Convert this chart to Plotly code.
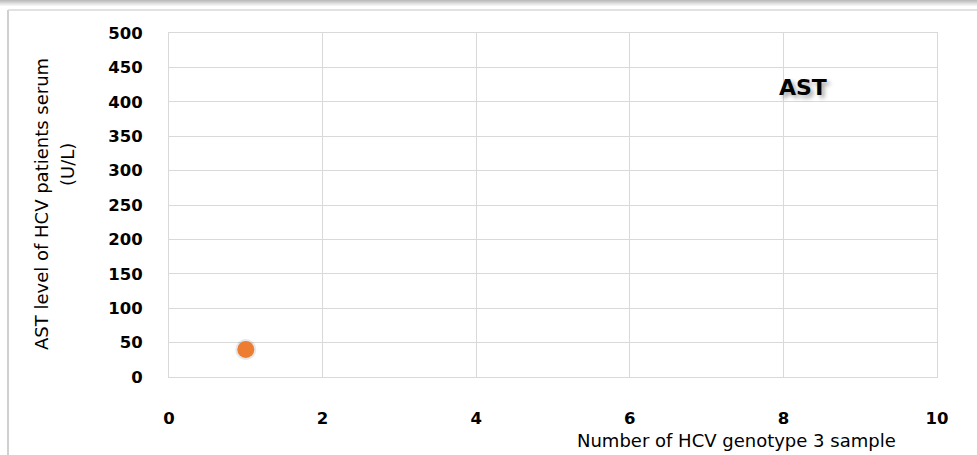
import plotly.graph_objects as go

# AST measurement for the HCV genotype 3 sample
sample_no = [1]
ast_level = [40]

x_ticks = [0, 2, 4, 6, 8, 10]
y_ticks = [0, 50, 100, 150, 200, 250, 300, 350, 400, 450, 500]

W, H = 977, 455
L, R, T, B = 169, 40, 33, 78
pw, ph = W - L - R, H - T - B


def px_x(p):
    return (p - L) / pw


def px_y(p):
    return (H - B - p) / ph


grid = "#D9D9D9"
tick_font = dict(family="DejaVu Sans", size=16.5, color="#000000", weight="bold")
title_font = dict(family="DejaVu Sans", size=18, color="#000000")

fig = go.Figure()

# soft shadow under the marker
fig.add_trace(go.Scatter(
    x=sample_no, y=ast_level, mode="markers",
    marker=dict(size=21, color="rgba(0,0,0,0.09)", line=dict(width=0)),
    hoverinfo="skip", showlegend=False,
))
fig.add_trace(go.Scatter(
    x=sample_no, y=ast_level, mode="markers",
    marker=dict(size=17, color="#ED7D31", line=dict(width=0)),
    name="AST", showlegend=False,
))

fig.update_xaxes(
    range=[0, 10], tickvals=x_ticks, ticktext=[str(v) for v in x_ticks],
    showgrid=True, gridcolor=grid, gridwidth=1,
    showline=True, linecolor=grid, linewidth=1, mirror=True,
    zeroline=False, ticks="", tickfont=tick_font, ticklabelstandoff=26,
)
fig.update_yaxes(
    range=[0, 500], tickvals=y_ticks, ticktext=[str(v) for v in y_ticks],
    showgrid=True, gridcolor=grid, gridwidth=1,
    showline=True, linecolor=grid, linewidth=1, mirror=True,
    zeroline=False, ticks="", tickfont=tick_font, ticklabelstandoff=22,
)

annotations = [
    dict(text="AST", x=px_x(803), y=px_y(88), xref="paper", yref="paper",
         showarrow=False, xanchor="center", yanchor="middle",
         font=dict(family="DejaVu Sans", size=22, color="#000000", weight="bold",
                   shadow="3px 3px 4px rgba(0,0,0,0.35)")),
    dict(text="Number of HCV genotype 3 sample", x=px_x(736), y=px_y(440),
         xref="paper", yref="paper", showarrow=False,
         xanchor="center", yanchor="middle", font=title_font),
    dict(text="AST level of HCV patients serum", x=px_x(41), y=px_y(204),
         xref="paper", yref="paper", showarrow=False, textangle=-90,
         xanchor="center", yanchor="middle", font=title_font),
    dict(text="(U/L)", x=px_x(67), y=px_y(165),
         xref="paper", yref="paper", showarrow=False, textangle=-90,
         xanchor="center", yanchor="middle", font=title_font),
]

shapes = [
    # outer chart frame
    dict(type="line", xref="paper", yref="paper",
         x0=px_x(8), x1=px_x(8), y0=px_y(10), y1=px_y(460),
         line=dict(color="#D0D0D0", width=2)),
    dict(type="line", xref="paper", yref="paper",
         x0=px_x(8), x1=px_x(990), y0=px_y(10), y1=px_y(10),
         line=dict(color="#D9D9D9", width=1.5)),
]
# gray band along the top edge
for i, c in enumerate(["#BDBDBD", "#C8C8C8", "#D4D4D4", "#DFDFDF", "#EAEAEA", "#F4F4F4"]):
    shapes.append(dict(type="rect", xref="paper", yref="paper",
                       x0=px_x(0), x1=px_x(W), y0=px_y(i), y1=px_y(i + 1),
                       line=dict(width=0), fillcolor=c, layer="above"))

fig.update_layout(
    width=W, height=H,
    margin=dict(l=L, r=R, t=T, b=B),
    paper_bgcolor="#FFFFFF", plot_bgcolor="#FFFFFF",
    annotations=annotations, shapes=shapes,
    showlegend=False,
)

fig.write_html("out.html")
